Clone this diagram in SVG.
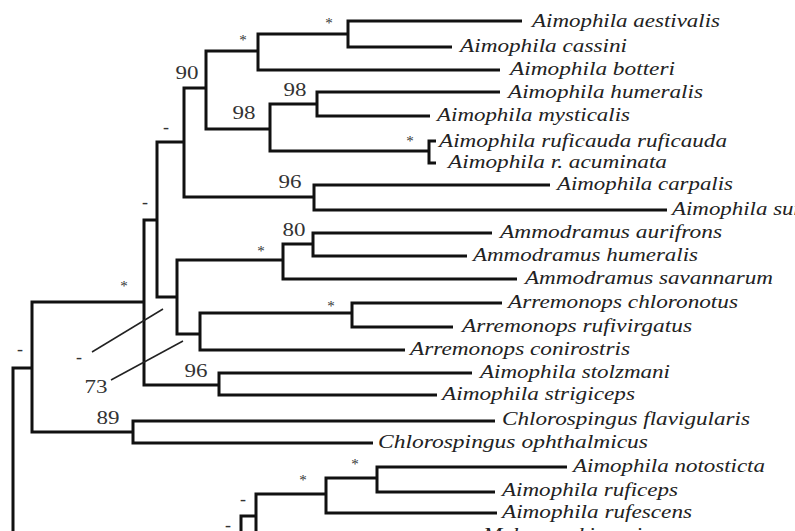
<svg xmlns="http://www.w3.org/2000/svg" width="795" height="531" viewBox="0 0 795 531">
  <style>
    .br { fill: none; stroke: #111; stroke-width: 3; stroke-linejoin: miter; stroke-linecap: butt; }
    .lead { fill: none; stroke: #222; stroke-width: 1.5; }
    .leaf { font-family: "Liberation Serif", "Times New Roman", serif; font-style: italic; font-size: 18.5px; fill: #222; }
    .sup { font-family: "Liberation Serif", "Times New Roman", serif; font-size: 18px; fill: #333; text-anchor: middle; }
    .ast { font-family: "Liberation Serif", "Times New Roman", serif; font-size: 15px; fill: #333; text-anchor: middle; }
  </style>
  <rect width="795" height="531" fill="#fff"/>

  <!-- branches -->
  <g id="connectors">
    <path class="br" d="M522,21 H348 V47 H452"/>
    <path class="br" d="M348,34 H258 V70 H500"/>
    <path class="br" d="M500,92 H317 V116 H430"/>
    <path class="br" d="M317,104 H270 V151 H429"/>
    <path class="br" d="M436,141 H429 V163 H436"/>
    <path class="br" d="M258,51 H206 V129 H270"/>
    <path class="br" d="M550,185 H314 V210 H667"/>
    <path class="br" d="M206,88 H184 V197 H314"/>
    <path class="br" d="M492,233 H313 V256 H467"/>
    <path class="br" d="M313,244 H283 V279 H517"/>
    <path class="br" d="M502,303 H352 V327 H453"/>
    <path class="br" d="M352,313 H200 V350 H405"/>
    <path class="br" d="M283,260 H177 V334 H200"/>
    <path class="br" d="M184,142 H157 V297 H177"/>
    <path class="br" d="M472,373 H219 V395 H437"/>
    <path class="br" d="M157,220 H144 V385 H219"/>
    <path class="br" d="M495,421 H133 V443 H373"/>
    <path class="br" d="M144,302 H32 V432 H133"/>
    <path class="br" d="M32,368 H13 V545"/>
    <path class="br" d="M567,467 H377 V492 H495"/>
    <path class="br" d="M377,478 H326 V513 H497"/>
    <path class="br" d="M326,494 H256 V545"/>
    <path class="br" d="M256,516 H241 V545"/>
    <path class="lead" d="M92,352 L163,309"/>
    <path class="lead" d="M111,380 L183,341"/>
  </g>

  <!-- leaves -->
  <g id="aestivalis"><text class="leaf" x="532" y="27" textLength="188" lengthAdjust="spacingAndGlyphs">Aimophila aestivalis</text></g>
  <g id="cassini"><text class="leaf" x="460" y="52" textLength="167" lengthAdjust="spacingAndGlyphs">Aimophila cassini</text></g>
  <g id="botteri"><text class="leaf" x="510" y="75" textLength="165" lengthAdjust="spacingAndGlyphs">Aimophila botteri</text></g>
  <g id="humeralis"><text class="leaf" x="508" y="98" textLength="195" lengthAdjust="spacingAndGlyphs">Aimophila humeralis</text></g>
  <g id="mysticalis"><text class="leaf" x="437" y="121" textLength="193" lengthAdjust="spacingAndGlyphs">Aimophila mysticalis</text></g>
  <g id="ruficauda"><text class="leaf" x="439" y="147" textLength="288" lengthAdjust="spacingAndGlyphs">Aimophila ruficauda ruficauda</text></g>
  <g id="acuminata"><text class="leaf" x="448" y="168" textLength="219" lengthAdjust="spacingAndGlyphs">Aimophila r. acuminata</text></g>
  <g id="carpalis"><text class="leaf" x="557" y="190" textLength="176" lengthAdjust="spacingAndGlyphs">Aimophila carpalis</text></g>
  <g id="sumichrasti"><text class="leaf" x="672" y="215" textLength="208" lengthAdjust="spacingAndGlyphs">Aimophila sumichrasti</text></g>
  <g id="aurifrons"><text class="leaf" x="500" y="238" textLength="222" lengthAdjust="spacingAndGlyphs">Ammodramus aurifrons</text></g>
  <g id="am-humeralis"><text class="leaf" x="473" y="261" textLength="225" lengthAdjust="spacingAndGlyphs">Ammodramus humeralis</text></g>
  <g id="savannarum"><text class="leaf" x="525" y="284" textLength="248" lengthAdjust="spacingAndGlyphs">Ammodramus savannarum</text></g>
  <g id="chloronotus"><text class="leaf" x="508" y="308" textLength="230" lengthAdjust="spacingAndGlyphs">Arremonops chloronotus</text></g>
  <g id="rufivirgatus"><text class="leaf" x="462" y="332" textLength="230" lengthAdjust="spacingAndGlyphs">Arremonops rufivirgatus</text></g>
  <g id="conirostris"><text class="leaf" x="410" y="355" textLength="220" lengthAdjust="spacingAndGlyphs">Arremonops conirostris</text></g>
  <g id="stolzmani"><text class="leaf" x="480" y="378" textLength="190" lengthAdjust="spacingAndGlyphs">Aimophila stolzmani</text></g>
  <g id="strigiceps"><text class="leaf" x="442" y="400" textLength="193" lengthAdjust="spacingAndGlyphs">Aimophila strigiceps</text></g>
  <g id="flavigularis"><text class="leaf" x="502" y="425" textLength="248" lengthAdjust="spacingAndGlyphs">Chlorospingus flavigularis</text></g>
  <g id="ophthalmicus"><text class="leaf" x="378" y="448" textLength="270" lengthAdjust="spacingAndGlyphs">Chlorospingus ophthalmicus</text></g>
  <g id="notosticta"><text class="leaf" x="573" y="472" textLength="192" lengthAdjust="spacingAndGlyphs">Aimophila notosticta</text></g>
  <g id="ruficeps"><text class="leaf" x="502" y="496" textLength="176" lengthAdjust="spacingAndGlyphs">Aimophila ruficeps</text></g>
  <g id="rufescens"><text class="leaf" x="502" y="518" textLength="190" lengthAdjust="spacingAndGlyphs">Aimophila rufescens</text></g>
  <g id="kieneri"><text class="leaf" x="483" y="541" textLength="159" lengthAdjust="spacingAndGlyphs">Melozone kieneri</text></g>

  <!-- support values at internal nodes -->
  <g id="node-aest-cass"><text class="ast" x="329" y="28">*</text></g>
  <g id="node-aest-bott"><text class="ast" x="243" y="45">*</text></g>
  <g id="node-90"><text class="sup" x="187" y="79" textLength="23" lengthAdjust="spacingAndGlyphs">90</text></g>
  <g id="node-98a"><text class="sup" x="295" y="96" textLength="23" lengthAdjust="spacingAndGlyphs">98</text></g>
  <g id="node-98b"><text class="sup" x="244" y="119" textLength="23" lengthAdjust="spacingAndGlyphs">98</text></g>
  <g id="node-ruficauda"><text class="ast" x="410" y="146">*</text></g>
  <g id="node-dash-a"><text class="sup" x="166" y="133">-</text></g>
  <g id="node-96a"><text class="sup" x="290" y="188" textLength="23" lengthAdjust="spacingAndGlyphs">96</text></g>
  <g id="node-dash-b"><text class="sup" x="145" y="208">-</text></g>
  <g id="node-80"><text class="sup" x="294" y="236" textLength="23" lengthAdjust="spacingAndGlyphs">80</text></g>
  <g id="node-ammodramus"><text class="ast" x="261" y="256">*</text></g>
  <g id="node-ingroup"><text class="ast" x="124" y="291">*</text></g>
  <g id="node-arremonops"><text class="ast" x="331" y="311">*</text></g>
  <g id="node-dash-c"><text class="sup" x="79" y="363">-</text></g>
  <g id="node-73"><text class="sup" x="96" y="393" textLength="23" lengthAdjust="spacingAndGlyphs">73</text></g>
  <g id="node-root"><text class="sup" x="20" y="355">-</text></g>
  <g id="node-96b"><text class="sup" x="196" y="377" textLength="23" lengthAdjust="spacingAndGlyphs">96</text></g>
  <g id="node-89"><text class="sup" x="108" y="424" textLength="23" lengthAdjust="spacingAndGlyphs">89</text></g>
  <g id="node-notosticta"><text class="ast" x="355" y="469">*</text></g>
  <g id="node-rufescens"><text class="ast" x="303" y="485">*</text></g>
  <g id="node-dash-d"><text class="sup" x="243" y="505">-</text></g>
  <g id="node-dash-e"><text class="sup" x="228" y="531">-</text></g>
</svg>
